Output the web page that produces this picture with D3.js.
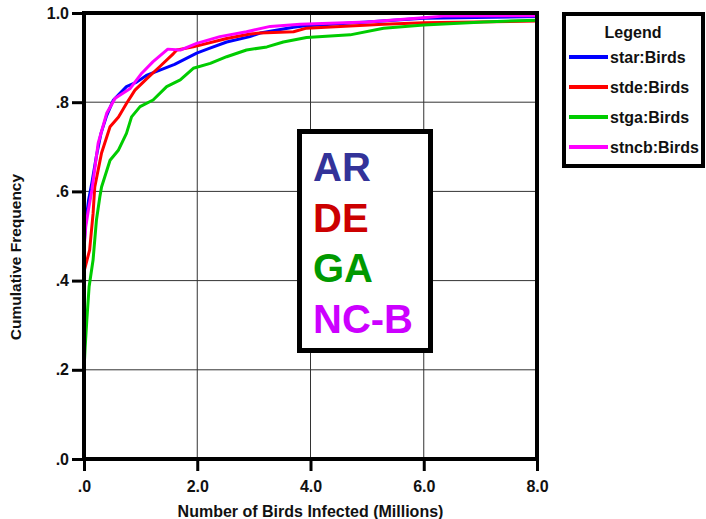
<!DOCTYPE html>
<html><head><meta charset="utf-8">
<script src="https://cdn.jsdelivr.net/npm/d3@7"></script>
<style>
body{margin:0;background:#fff;}
svg{display:block;font-family:"Liberation Sans",Arial,sans-serif;}
</style></head>
<body><svg id="c" width="706" height="519"></svg>
<script>
const xTicks = [0, 2, 4, 6, 8];
const xTickLabels = [".0", "2.0", "4.0", "6.0", "8.0"];
const yTicks = [0, 0.2, 0.4, 0.6, 0.8, 1.0];
const yTickLabels = [".0", ".2", ".4", ".6", ".8", "1.0"];
const seriesNames = ["star:Birds", "stde:Birds", "stga:Birds", "stncb:Birds"];
const seriesColors = ["#0000ff", "#ff0000", "#00cc00", "#ff00ff"];
const boxLabels = ["AR", "DE", "GA", "NC-B"];
const boxColors = ["#333399", "#cc0000", "#009900", "#cc00ff"];

const star = [[0,0],[0,0.47],[0.02,0.52],[0.08,0.58],[0.14,0.62],[0.22,0.68],[0.3,0.73],[0.4,0.77],[0.52,0.805],[0.75,0.835],[0.93,0.845],[1.1,0.86],[1.34,0.872],[1.6,0.885],[1.99,0.91],[2.2,0.92],[2.52,0.935],[2.93,0.947],[3.11,0.955],[3.7,0.968],[3.87,0.971],[5.0,0.98],[6.0,0.988],[8.0,0.992]];
const stde = [[0,0],[0,0.42],[0.1,0.469],[0.16,0.55],[0.19,0.61],[0.31,0.686],[0.46,0.745],[0.61,0.767],[0.75,0.797],[0.9,0.827],[1.11,0.853],[1.34,0.88],[1.58,0.909],[1.64,0.917],[1.93,0.924],[2.52,0.943],[2.93,0.953],[3.11,0.955],[3.7,0.958],[3.93,0.966],[5.29,0.975],[6.0,0.978],[8.0,0.982]];
const stga = [[0,0],[0,0.2],[0.02,0.25],[0.05,0.312],[0.09,0.386],[0.16,0.446],[0.22,0.536],[0.28,0.588],[0.31,0.61],[0.46,0.67],[0.61,0.693],[0.75,0.73],[0.84,0.767],[0.99,0.79],[1.22,0.805],[1.46,0.835],[1.7,0.85],[1.93,0.876],[2.23,0.887],[2.52,0.902],[2.87,0.917],[3.23,0.924],[3.52,0.935],[3.93,0.945],[4.7,0.951],[5.29,0.966],[6.0,0.973],[7.06,0.98],[8.0,0.984]];
const stncb = [[0,0],[0,0.47],[0.03,0.52],[0.08,0.56],[0.14,0.603],[0.25,0.708],[0.4,0.775],[0.55,0.809],[0.81,0.83],[1.02,0.865],[1.22,0.891],[1.48,0.919],[1.7,0.917],[1.99,0.932],[2.4,0.947],[2.87,0.958],[3.29,0.97],[3.82,0.975],[5.0,0.98],[5.88,0.988],[6.34,0.993],[8.0,0.994]];
const seriesData = [star, stde, stga, stncb];
const drawOrder = [0, 1, 2, 3];

const svg = d3.select("#c");
const x = d3.scaleLinear().domain([0, 8]).range([84, 537]);
const y = d3.scaleLinear().domain([0, 1]).range([459, 13]);

// grid
svg.append("g").selectAll("line").data(xTicks.slice(1, -1)).join("line")
  .attr("x1", d => x(d)).attr("x2", d => x(d)).attr("y1", y(1)).attr("y2", y(0))
  .attr("stroke", "#333").attr("stroke-width", 1);
svg.append("g").selectAll("line").data(yTicks.slice(1, -1)).join("line")
  .attr("y1", d => y(d)).attr("y2", d => y(d)).attr("x1", x(0)).attr("x2", x(8))
  .attr("stroke", "#333").attr("stroke-width", 1);

// lines
const line = d3.line().x(d => x(d[0])).y(d => y(d[1]));
drawOrder.forEach(i => {
  svg.append("path").datum(seriesData[i]).attr("d", line)
    .attr("fill", "none").attr("stroke", seriesColors[i]).attr("stroke-width", 3)
    .attr("stroke-linejoin", "round");
});

// frame
svg.append("rect").attr("x", x(0)).attr("y", y(1)).attr("width", x(8) - x(0)).attr("height", y(0) - y(1))
  .attr("fill", "none").attr("stroke", "#000").attr("stroke-width", 4);

// axes
const xAxis = d3.axisBottom(x).tickValues(xTicks).tickSize(12).tickPadding(10)
  .tickFormat((d, i) => xTickLabels[i]);
const gx = svg.append("g").attr("transform", `translate(0,${y(0)})`).call(xAxis);
const yAxis = d3.axisLeft(y).tickValues(yTicks).tickSize(12).tickPadding(3)
  .tickFormat((d, i) => yTickLabels[i]);
const gy = svg.append("g").attr("transform", `translate(${x(0)},0)`).call(yAxis);
[gx, gy].forEach(g => {
  g.select(".domain").remove();
  g.selectAll(".tick line").attr("stroke", "#000").attr("stroke-width", 3);
  g.selectAll(".tick text").attr("fill", "#111").attr("font-size", 16).attr("font-weight", "bold")
    .attr("font-family", "'Liberation Sans',Arial,sans-serif");
});

// axis titles
svg.append("text").attr("x", (x(0) + x(8)) / 2).attr("y", 517).attr("text-anchor", "middle")
  .attr("font-size", 16).attr("font-weight", "bold").attr("fill", "#111")
  .text("Number of Birds Infected (Millions)");
svg.append("text").attr("transform", "translate(21,257) rotate(-90)").attr("text-anchor", "middle")
  .attr("font-size", 15.5).attr("font-weight", "bold").attr("fill", "#111")
  .text("Cumulative Frequency");

// text box
svg.append("rect").attr("x", 299.5).attr("y", 131.5).attr("width", 131).attr("height", 219)
  .attr("fill", "#fff").attr("stroke", "#000").attr("stroke-width", 5);
svg.append("g").selectAll("text").data(boxLabels).join("text")
  .attr("x", 313).attr("y", (d, i) => 181 + i * 50.7)
  .attr("font-size", 40).attr("font-weight", "bold").attr("fill", (d, i) => boxColors[i])
  .text(d => d);

// legend
svg.append("rect").attr("x", 564).attr("y", 14).attr("width", 139).attr("height", 152)
  .attr("fill", "#fff").attr("stroke", "#000").attr("stroke-width", 4);
svg.append("text").attr("x", 633).attr("y", 38).attr("text-anchor", "middle")
  .attr("font-size", 16).attr("font-weight", "bold").attr("fill", "#111").text("Legend");
const lg = svg.append("g").selectAll("g").data(seriesNames).join("g")
  .attr("transform", (d, i) => `translate(0,${57 + i * 30})`);
lg.append("line").attr("x1", 569).attr("x2", 608).attr("y1", 0).attr("y2", 0)
  .attr("stroke", (d, i) => seriesColors[i]).attr("stroke-width", 4);
lg.append("text").attr("x", 610).attr("y", 5.5).attr("font-size", 16).attr("font-weight", "bold")
  .attr("fill", "#111").text(d => d);
</script></body></html>
